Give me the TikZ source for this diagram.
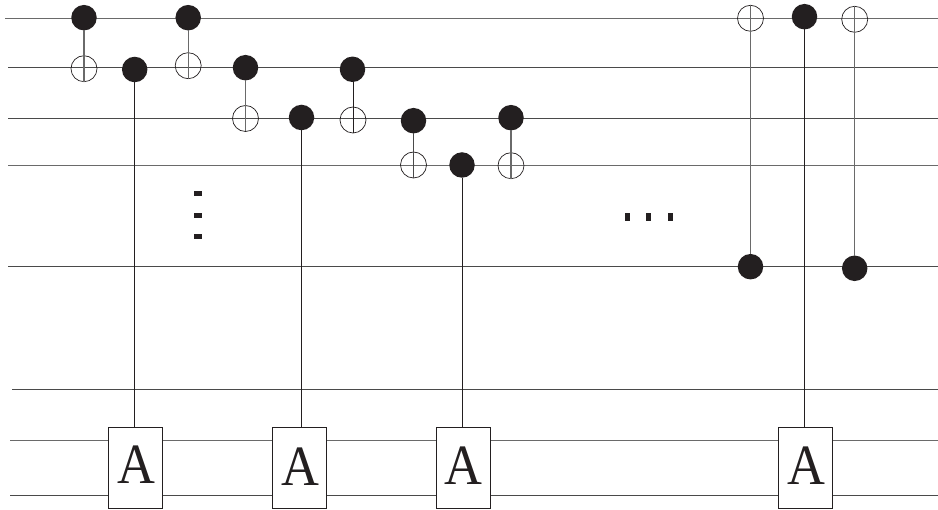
\documentclass[tikz,border=0pt]{standalone}
\usepackage{fontspec}
\setmainfont{Liberation Serif}
\definecolor{ink}{HTML}{231F20}
\definecolor{wirec}{HTML}{4A4A4A}
\definecolor{greyc}{HTML}{6A6A6A}
\tikzset{
  wire/.style={draw=wirec,line width=1pt},
  wireg/.style={draw=greyc,line width=1.2pt},
  ctrl/.style={draw=ink,line width=0.9pt},
  ctrlg/.style={draw=greyc,line width=1.4pt},
  ctrldot/.style={circle,fill=ink,minimum size=25.5pt,inner sep=0pt,outer sep=0pt},
  target/.style={circle,draw=ink,line width=0.7pt,minimum size=26pt,inner sep=0pt,outer sep=0pt},
  gatebox/.style={draw=ink,fill=white,line width=0.9pt,minimum width=54pt,minimum height=81pt,inner sep=0pt,outer sep=0pt},
  vgap/.style={fill=ink,minimum width=8.5pt,minimum height=5pt,inner sep=0pt,outer sep=0pt},
  hgap/.style={fill=ink,minimum width=5pt,minimum height=8.5pt,inner sep=0pt,outer sep=0pt},
  glyph/.style={anchor=base,font=\fontsize{57}{57}\selectfont,xscale=0.92,text=ink,inner sep=0pt},
}
\begin{document}
\begin{tikzpicture}[x=1pt,y=-1pt]
\useasboundingbox (0,0) rectangle (938,510);
% wires
\foreach \n/\xa/\y/\s in {1/5/18.6/wireg,2/8/68/wire,3/8/118.6/wire,4/8/165.6/wireg,5/8/266.6/wire,6/12/389.7/wire,7/10/440.7/wireg,8/10/495.6/wire}{
  \coordinate (wl\n) at (\xa,\y);
  \coordinate (wr\n) at (938,\y);
  \draw[\s] (wl\n) -- (wr\n);
}
% gates
\node[gatebox] (g1) at (135.2,467.8) {};
\node[gatebox] (g2) at (299.2,467.8) {};
\node[gatebox] (g3) at (463.3,467.8) {};
\node[gatebox] (g4) at (805.3,467.8) {};
\node[glyph] (t1) at (136.7,483.3) {A};
\node[glyph] (t2) at (300.7,485.7) {A};
\node[glyph] (t3) at (463.3,485) {A};
\node[glyph] (t4) at (806.7,485) {A};
% controls
\node[ctrldot] (c1) at (84,17.7) {};
\node[ctrldot] (c2) at (134.7,69.5) {};
\node[ctrldot] (c3) at (188.2,17.7) {};
\node[ctrldot] (c4) at (245.5,67.7) {};
\node[ctrldot] (c5) at (301.5,117.5) {};
\node[ctrldot] (c6) at (352.5,69.3) {};
\node[ctrldot] (c7) at (413.5,120.7) {};
\node[ctrldot] (c8) at (462,165) {};
\node[ctrldot] (c9) at (511,117.7) {};
\node[ctrldot] (c10) at (750.5,266.7) {};
\node[ctrldot] (c11) at (804.5,16.7) {};
\node[ctrldot] (c12) at (854.7,268.3) {};
% targets
\node[target] (x1) at (84,68.7) {};
\node[target] (x2) at (188.2,65.7) {};
\node[target] (x3) at (245.5,118.5) {};
\node[target] (x4) at (353,120) {};
\node[target] (x5) at (413.5,165) {};
\node[target] (x6) at (511,165.7) {};
\node[target] (x7) at (750.5,18.3) {};
\node[target] (x8) at (854.7,19.3) {};
% connectors
\draw[ctrlg] (c1.south) -- (x1.south);
\draw[ctrlg] (c3.south) -- (x2.south);
\draw[ctrlg] (c4.south) -- (x3.south);
\draw[ctrl] (c6.south -| x4.south) -- (x4.south);
\draw[ctrlg,draw=wirec] (c7.south) -- (x5.south);
\draw[ctrlg] (c9.south) -- (x6.south);
\draw[ctrlg] (x7.north) -- (c10.north);
\draw[ctrlg] (x8.north) -- (c12.north);
\draw[ctrl] (c2.south) -- (c2.south |- g1.north);
\draw[ctrl] (c5.south) -- (c5.south |- g2.north);
\draw[ctrl] (c8.south) -- (c8.south |- g3.north);
\draw[ctrl] (c11.south) -- (c11.south |- g4.north);
% ellipses
\node[vgap] (v1) at (198,194) {};
\node[vgap] (v2) at (198,215.3) {};
\node[vgap] (v3) at (198,236.7) {};
\node[hgap] (h1) at (627.5,217) {};
\node[hgap] (h2) at (648.5,217) {};
\node[hgap] (h3) at (670,217) {};
\end{tikzpicture}
\end{document}
